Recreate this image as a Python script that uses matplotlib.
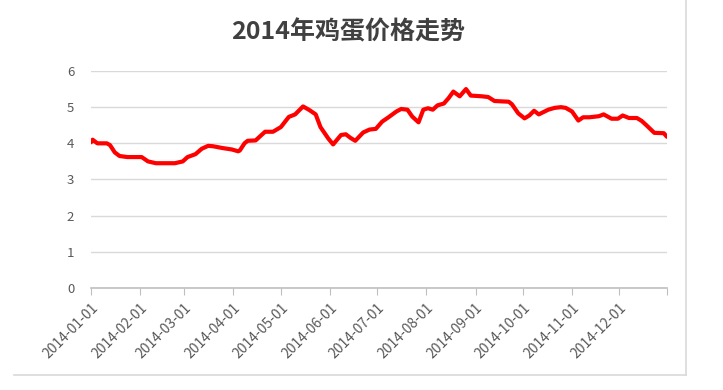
import numpy as np
import pandas as pd
import matplotlib
matplotlib.use('Agg')
import matplotlib.pyplot as plt
from matplotlib.lines import Line2D

plt.rcParams['font.family'] = ['Noto Sans CJK SC', 'DejaVu Sans']

# egg price (day offset from 2014-01-01, price)
days = [0, 1, 4, 10, 12, 15, 18, 23, 32, 36, 41, 53, 58, 61, 66, 70, 74, 77,
        83, 89, 93, 94, 97, 99, 104, 110, 115, 120, 125, 129, 134, 138, 142,
        145, 150, 153, 158, 161, 164, 167, 172, 176, 180, 184, 188, 193, 196,
        200, 203, 207, 210, 213, 216, 219, 223, 226, 229, 233, 237, 240, 247,
        251, 255, 264, 266, 270, 274, 277, 280, 283, 289, 293, 297, 300, 304,
        308, 311, 315, 321, 324, 329, 333, 336, 340, 345, 348, 351, 356, 362,
        364]
price = [4.03, 4.10, 4.00, 4.00, 3.95, 3.75, 3.65, 3.62, 3.62, 3.50, 3.45,
         3.45, 3.50, 3.62, 3.70, 3.85, 3.93, 3.92, 3.87, 3.83, 3.78, 3.80,
         4.00, 4.07, 4.08, 4.32, 4.32, 4.45, 4.73, 4.80, 5.02, 4.92, 4.80,
         4.45, 4.13, 3.97, 4.23, 4.25, 4.15, 4.07, 4.30, 4.38, 4.40, 4.60,
         4.72, 4.88, 4.95, 4.93, 4.74, 4.58, 4.93, 4.97, 4.93, 5.05, 5.10,
         5.25, 5.43, 5.30, 5.50, 5.32, 5.30, 5.28, 5.17, 5.15, 5.08, 4.83,
         4.69, 4.77, 4.90, 4.80, 4.93, 4.98, 5.00, 4.98, 4.88, 4.63, 4.72,
         4.72, 4.75, 4.80, 4.68, 4.68, 4.77, 4.70, 4.70, 4.62, 4.50, 4.29,
         4.28, 4.18]
month_labels = ['2014-%02d-01' % m for m in range(1, 13)]
title = '2014年鸡蛋价格走势'

dates = pd.Timestamp('2014-01-01') + pd.to_timedelta(days, unit='D')

fig = plt.figure(figsize=(7.23, 3.9), dpi=100)
ax = fig.add_axes([0.1259, 0.2615, 0.7966, 0.5565])

ax.plot(dates, price, color='#ff0000', lw=3.0, solid_joinstyle='round',
        solid_capstyle='round')

start = pd.Timestamp('2014-01-01')
end = pd.Timestamp('2014-12-31')
ax.set_xlim(start, end)
ax.set_ylim(0, 6)

ticks = list(pd.to_datetime(month_labels)) + [end]
ax.set_xticks(ticks)
ax.set_xticklabels(month_labels + [''], rotation=45, ha='right',
                   rotation_mode='anchor', fontsize=10, color='#595959')
ax.set_yticks(range(0, 7))
ax.set_yticklabels([str(i) for i in range(0, 7)], fontsize=9.5, color='#595959')

ax.grid(axis='y', color='#d9d9d9', lw=1)
ax.set_axisbelow(True)
for s in ['left', 'right', 'top']:
    ax.spines[s].set_visible(False)
ax.spines['bottom'].set_color('#bfbfbf')
ax.spines['bottom'].set_linewidth(1.2)
ax.tick_params(axis='x', length=5, color='#bfbfbf', pad=4)
ax.tick_params(axis='y', length=0, pad=12)

fig.text(0.482, 0.918, title, ha='center', va='center', fontsize=18,
         fontweight='bold', color='#404040')

# chart area border (only right and bottom visible)
fig.add_artist(Line2D([0.949, 0.949], [0.0385, 1.0], transform=fig.transFigure,
                      color='#d9d9d9', lw=1.2))
fig.add_artist(Line2D([0.02, 0.949], [0.0385, 0.0385], transform=fig.transFigure,
                      color='#d9d9d9', lw=1.2))

plt.savefig('out.png', dpi=100)
